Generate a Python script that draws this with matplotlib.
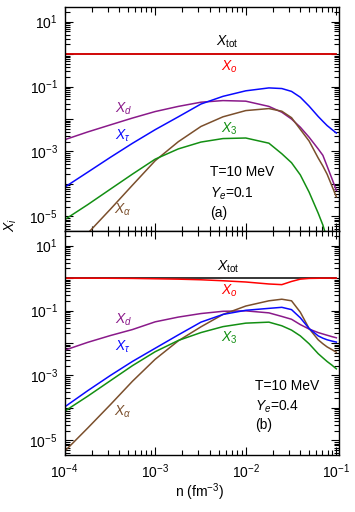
import numpy as np
import matplotlib
matplotlib.use('Agg')
import matplotlib.pyplot as plt
from matplotlib.ticker import LogLocator, FuncFormatter, NullFormatter, FixedLocator

plt.rcParams['font.family'] = ['Liberation Sans', 'DejaVu Sans']
plt.rcParams['mathtext.fontset'] = 'custom'
plt.rcParams['mathtext.rm'] = 'Liberation Sans'
plt.rcParams['mathtext.it'] = 'Liberation Sans:italic'
plt.rcParams['mathtext.bf'] = 'Liberation Sans:bold'
plt.rcParams['font.size'] = 10

# densite n (fm^-3)
n = [1.0e-4, 1.8e-4, 3.2e-4, 5.6e-4, 1.0e-3, 1.8e-3, 3.2e-3, 5.6e-3, 1.0e-2,
     1.8e-2, 2.5e-2, 3.2e-2, 4.0e-2, 5.0e-2, 6.3e-2, 7.1e-2, 7.9e-2, 8.9e-2, 1.0e-1]

# panel (a): T=10 MeV, Ye=0.1
Xtot_a = [1.0] * 19
Xo_a = [0.985] * 19
Xd_a = [2.3e-3, 4.0e-3, 6.6e-3, 1.07e-2, 1.7e-2, 2.45e-2, 3.3e-2, 3.7e-2, 3.55e-2,
        2.45e-2, 1.62e-2, 1.0e-2, 5.6e-3, 2.75e-3, 1.2e-3, 7.6e-4, 3.55e-4, 1.5e-4, 6.3e-5]
Xtau_a = [7.9e-5, 2.3e-4, 6.6e-4, 1.78e-3, 4.7e-3, 1.17e-2, 2.9e-2, 5.0e-2, 7.4e-2,
          9.1e-2, 8.7e-2, 7.1e-2, 4.7e-2, 2.5e-2, 1.2e-2, 8.5e-3, 6.3e-3, 4.8e-3, 3.7e-3]
X3_a = [7.9e-6, 2.3e-5, 6.9e-5, 2.0e-4, 5.8e-4, 1.2e-3, 1.95e-3, 2.5e-3, 2.6e-3,
        1.8e-3, 8.5e-4, 4.5e-4, 1.9e-4, 5.6e-5, 1.26e-5, 5.4e-6, 2.0e-6, 6.3e-7, 1.6e-7]
Xalpha_a = [5.0e-7, 3.0e-6, 1.66e-5, 9.1e-5, 5.2e-4, 2.0e-3, 5.9e-3, 1.17e-2, 1.82e-2,
            2.1e-2, 1.74e-2, 1.1e-2, 4.8e-3, 2.1e-3, 6.3e-4, 3.55e-4, 2.0e-4, 8.9e-5, 4.0e-5]

# panel (b): T=10 MeV, Ye=0.4
Xtot_b = [1.0] * 19
Xo_b = [1.0, 1.0, 0.99, 0.98, 0.955, 0.93, 0.89, 0.83, 0.76,
        0.66, 0.63, 0.79, 0.93, 0.98, 0.99, 1.0, 1.0, 1.0, 1.0]
Xd_b = [6.0e-3, 1.05e-2, 1.7e-2, 2.6e-2, 4.5e-2, 6.3e-2, 8.1e-2, 9.5e-2, 9.8e-2,
        8.5e-2, 6.6e-2, 5.4e-2, 3.7e-2, 2.7e-2, 2.1e-2, 1.9e-2, 1.74e-2, 1.58e-2, 1.45e-2]
Xtau_b = [1.07e-4, 3.4e-4, 1.0e-3, 2.7e-3, 6.9e-3, 1.78e-2, 4.4e-2, 7.6e-2, 1.02e-1,
          1.17e-1, 1.26e-1, 1.07e-1, 6.0e-2, 2.8e-2, 1.66e-2, 1.41e-2, 1.26e-2, 1.15e-2, 1.07e-2]
X3_b = [7.9e-5, 2.3e-4, 6.9e-4, 2.0e-3, 5.4e-3, 1.2e-2, 2.1e-2, 3.2e-2, 4.1e-2,
        4.4e-2, 3.4e-2, 2.5e-2, 1.66e-2, 9.5e-3, 4.7e-3, 3.5e-3, 2.7e-3, 2.1e-3, 1.6e-3]
Xalpha_b = [4.6e-6, 2.4e-5, 1.26e-4, 6.6e-4, 3.16e-3, 1.17e-2, 3.16e-2, 7.6e-2, 1.38e-1,
            2.0e-1, 2.24e-1, 2.0e-1, 8.9e-2, 2.8e-2, 1.26e-2, 9.5e-3, 7.6e-3, 6.3e-3, 5.2e-3]

# ticks
yticks = [1e-5, 1e-4, 1e-3, 1e-2, 1e-1, 1e0, 1e1]
xticks = [1e-4, 1e-3, 1e-2, 1e-1]

c_red = '#ff0000'
c_purple = '#8a1a8a'
c_blue = '#0a0aff'
c_green = '#138f13'
c_brown = '#7b4f2c'


def yfmt(v, pos):
    e = int(round(np.log10(v)))
    if e % 2 == 0:
        return ''
    return r'$10^{%d}$' % e


def xfmt(v, pos):
    e = int(round(np.log10(v)))
    return r'$10^{%d}$' % e


fig, (ax1, ax2) = plt.subplots(2, 1, sharex=True, figsize=(3.55, 5.12), dpi=100)
fig.subplots_adjust(left=0.182, right=0.956, top=0.986, bottom=0.111, hspace=0)

panels = [
    (ax1, Xtot_a, Xo_a, Xd_a, Xtau_a, X3_a, Xalpha_a),
    (ax2, Xtot_b, Xo_b, Xd_b, Xtau_b, X3_b, Xalpha_b),
]
for ax, xt, xo, xd, xtau, x3, xal in panels:
    ax.plot(n, xt, color='k', lw=1.1)
    ax.plot(n, xo, color=c_red, lw=1.1)
    ax.plot(n, xd, color=c_purple, lw=1.1)
    ax.plot(n, xal, color=c_brown, lw=1.1)
    ax.plot(n, x3, color=c_green, lw=1.1)
    ax.plot(n, xtau, color=c_blue, lw=1.1)
    ax.set_xscale('log')
    ax.set_yscale('log')
    ax.set_xlim(1e-4, 0.108)
    ax.set_ylim(3.5e-6, 28)
    ax.yaxis.set_major_locator(FixedLocator(yticks))
    ax.yaxis.set_minor_locator(LogLocator(base=10, subs=np.arange(2, 10), numticks=20))
    ax.yaxis.set_major_formatter(FuncFormatter(yfmt))
    ax.yaxis.set_minor_formatter(NullFormatter())
    ax.xaxis.set_major_locator(FixedLocator(xticks))
    ax.xaxis.set_minor_locator(LogLocator(base=10, subs=np.arange(2, 10), numticks=20))
    ax.xaxis.set_major_formatter(FuncFormatter(xfmt))
    ax.xaxis.set_minor_formatter(NullFormatter())
    ax.tick_params(which='both', direction='in', top=True, right=True, width=0.8, labelsize=10, pad=5)
    ax.tick_params(which='major', length=6)
    ax.tick_params(which='minor', length=3.5)
    for sp in ax.spines.values():
        sp.set_linewidth(1.0)

# labels panel (a)
ax1.text(0.59, 0.845, r'$X_{\rm tot}$', transform=ax1.transAxes, ha='center', va='center', color='k')
ax1.text(0.60, 0.735, r'$X_o$', transform=ax1.transAxes, ha='center', va='center', color=c_red)
ax1.text(0.213, 0.545, r'$X_d$', transform=ax1.transAxes, ha='center', va='center', color=c_purple)
ax1.text(0.213, 0.425, r'$X_\tau$', transform=ax1.transAxes, ha='center', va='center', color=c_blue)
ax1.text(0.598, 0.455, r'$X_3$', transform=ax1.transAxes, ha='center', va='center', color=c_green)
ax1.text(0.213, 0.095, r'$X_\alpha$', transform=ax1.transAxes, ha='center', va='center', color=c_brown)
ax1.text(0.529, 0.262, 'T=10 MeV', transform=ax1.transAxes, ha='left', va='center')
ax1.text(0.529, 0.166, r'$Y_e$=0.1', transform=ax1.transAxes, ha='left', va='center')
ax1.text(0.529, 0.081, '(a)', transform=ax1.transAxes, ha='left', va='center')

# labels panel (b)
ax2.text(0.595, 0.84, r'$X_{\rm tot}$', transform=ax2.transAxes, ha='center', va='center', color='k')
ax2.text(0.60, 0.735, r'$X_o$', transform=ax2.transAxes, ha='center', va='center', color=c_red)
ax2.text(0.213, 0.605, r'$X_d$', transform=ax2.transAxes, ha='center', va='center', color=c_purple)
ax2.text(0.213, 0.485, r'$X_\tau$', transform=ax2.transAxes, ha='center', va='center', color=c_blue)
ax2.text(0.60, 0.525, r'$X_3$', transform=ax2.transAxes, ha='center', va='center', color=c_green)
ax2.text(0.213, 0.195, r'$X_\alpha$', transform=ax2.transAxes, ha='center', va='center', color=c_brown)
ax2.text(0.693, 0.307, 'T=10 MeV', transform=ax2.transAxes, ha='left', va='center')
ax2.text(0.693, 0.218, r'$Y_e$=0.4', transform=ax2.transAxes, ha='left', va='center')
ax2.text(0.693, 0.133, '(b)', transform=ax2.transAxes, ha='left', va='center')

fig.text(0.03, 0.56, r'$X_i$', rotation=90, ha='center', va='center')
fig.text(0.563, 0.039, r'n (fm$^{-3}$)', ha='center', va='center')

fig.savefig('out.png', dpi=100)
